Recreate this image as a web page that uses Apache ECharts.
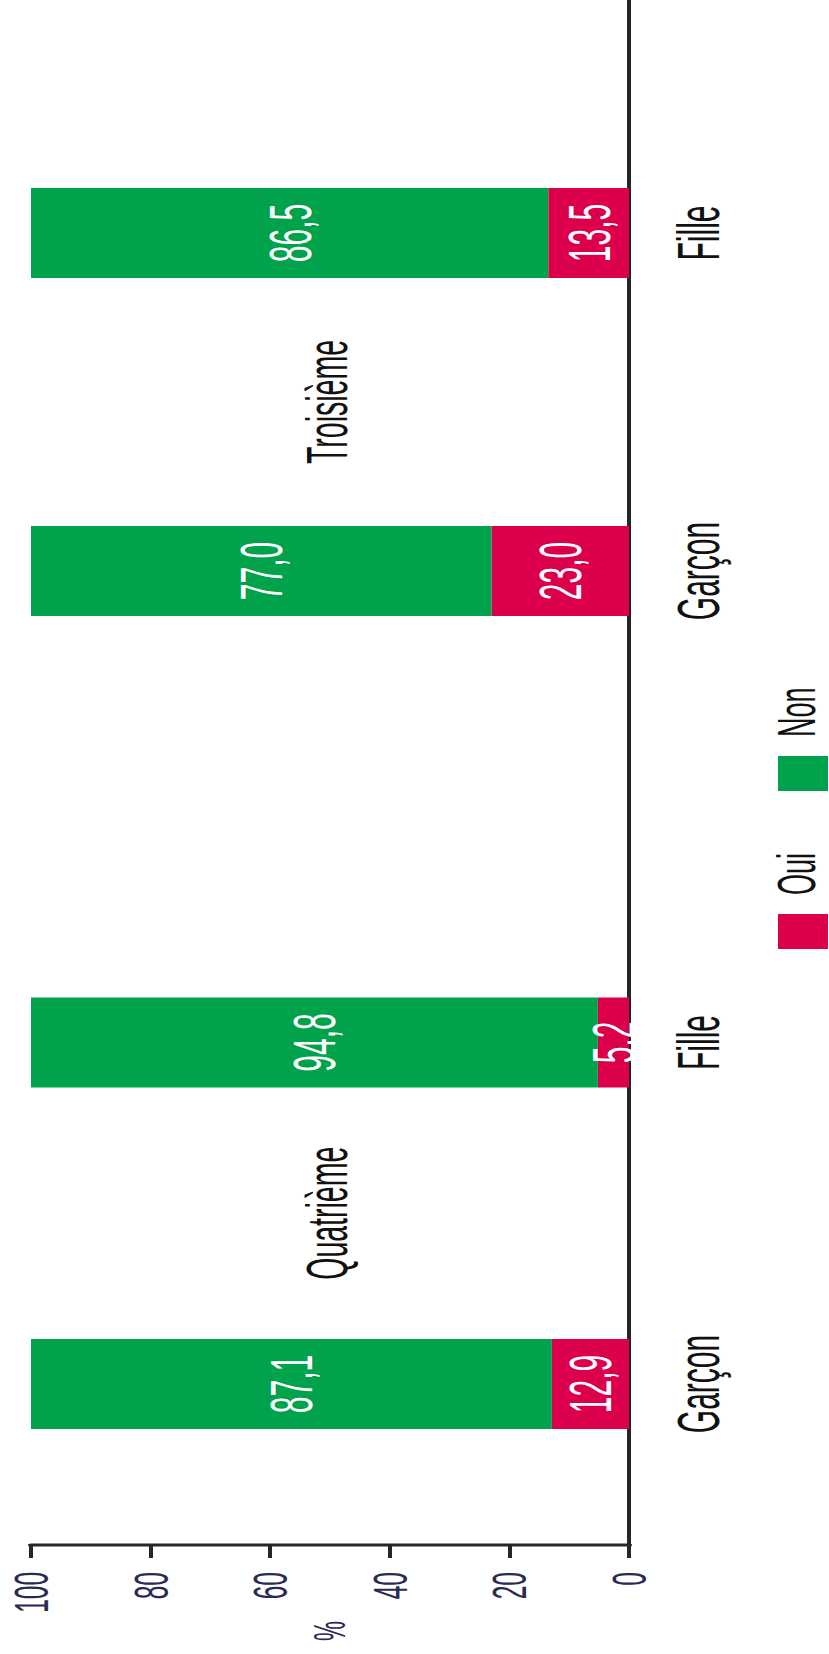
<!DOCTYPE html>
<html>
<head>
<meta charset="utf-8">
<script src="https://cdn.jsdelivr.net/npm/echarts@6/dist/echarts.min.js"></script>
<style>
html, body { margin: 0; padding: 0; overflow: hidden; background: #fff; width: 829px; height: 1654px; }
/* the chart is drawn as a column chart and turned a quarter turn, squeezed along its length like the reference */
#barChart {
  position: absolute; left: 0; top: 0;
  width: 3308px; height: 829px;
  transform-origin: 0 0;
  transform: translate(0px, 1654px) rotate(-90deg) scaleX(0.5);
}
</style>
</head>
<body>
<div id="barChart"></div>
<script>
const sexes = ['Garçon', 'Fille']
const classes = ['Quatrième', 'Troisième']
const ouiQuatrieme = [12.9, 5.2]
const nonQuatrieme = [87.1, 94.8]
const ouiTroisieme = [23.0, 13.5]
const nonTroisieme = [77.0, 86.5]
const valueMin = 0
const valueMax = 100
const valueStep = 20

const red = '#dc004c'
const green = '#00a34b'
const ink = '#111111'
const axisColor = '#262626'
const wordFont = '"Liberation Sans", Arial, sans-serif'
const digitFont = '"Liberation Sans Narrow", "Liberation Sans", Arial, sans-serif'

let myChart = echarts.init(document.getElementById('barChart'), null, { renderer: 'svg' })

let barLabel = {
  show: true,
  position: 'inside',
  color: '#fff',
  fontSize: 60,
  fontFamily: digitFont,
  formatter: p => p.value.toFixed(1).replace('.', ',')
}

function groupAxis(index, name) {
  return {
    type: 'category',
    gridIndex: index,
    data: sexes,
    axisLine: { show: false },
    axisTick: { show: false },
    axisLabel: { fontSize: 60, color: ink, fontFamily: wordFont, margin: 39 },
    name: name,
    nameLocation: 'middle',
    nameGap: -302,
    nameTextStyle: { fontSize: 57, color: ink, fontFamily: wordFont, align: 'center', verticalAlign: 'middle' }
  }
}

function hiddenValueAxis(index) {
  return { type: 'value', gridIndex: index, min: valueMin, max: valueMax, show: false }
}

let options = {
  animation: false,
  backgroundColor: '#fff',
  legend: {
    data: ['Oui', 'Non'],
    left: 1410,
    top: 769,
    padding: 0,
    icon: 'rect',
    itemWidth: 70,
    itemHeight: 50,
    itemGap: 124,
    formatter: '{t|{name}}',
    textStyle: {
      rich: {
        t: { fontSize: 54, color: ink, fontFamily: wordFont, padding: [0, 0, 14, 33] }
      }
    }
  },
  grid: [
    { left: 218, right: 0, top: 31, bottom: 200 },
    { left: 198.5, width: 1366, top: 31, bottom: 200 },
    { left: 1828, width: 1352, top: 31, bottom: 200 }
  ],
  xAxis: [
    {
      type: 'category',
      gridIndex: 0,
      data: [''],
      axisLine: { show: true, lineStyle: { color: axisColor, width: 4 } },
      axisTick: { show: false },
      axisLabel: { show: false }
    },
    groupAxis(1, classes[0]),
    groupAxis(2, classes[1])
  ],
  yAxis: [
    {
      type: 'value',
      gridIndex: 0,
      min: valueMin,
      max: valueMax,
      interval: valueStep,
      splitLine: { show: false },
      axisLine: { show: true, lineStyle: { color: axisColor, width: 6 } },
      axisTick: { show: true, length: 26, lineStyle: { color: axisColor, width: 4 } },
      axisLabel: { fontSize: 49, color: '#2a2a55', fontFamily: digitFont, margin: 54 },
      name: '%',
      nameLocation: 'middle',
      nameRotate: 0,
      nameGap: 172,
      nameTextStyle: { fontSize: 45, color: '#2a2a55', fontFamily: wordFont, align: 'center', verticalAlign: 'middle' }
    },
    hiddenValueAxis(1),
    hiddenValueAxis(2)
  ],
  series: [
    { name: 'Oui', type: 'bar', stack: 'q', xAxisIndex: 1, yAxisIndex: 1, barWidth: 180, data: ouiQuatrieme, itemStyle: { color: red }, label: barLabel },
    { name: 'Non', type: 'bar', stack: 'q', xAxisIndex: 1, yAxisIndex: 1, barWidth: 180, data: nonQuatrieme, itemStyle: { color: green }, label: barLabel },
    { name: 'Oui', type: 'bar', stack: 't', xAxisIndex: 2, yAxisIndex: 2, barWidth: 180, data: ouiTroisieme, itemStyle: { color: red }, label: barLabel },
    { name: 'Non', type: 'bar', stack: 't', xAxisIndex: 2, yAxisIndex: 2, barWidth: 180, data: nonTroisieme, itemStyle: { color: green }, label: barLabel }
  ]
}

myChart.setOption(options)
</script>
</body>
</html>
